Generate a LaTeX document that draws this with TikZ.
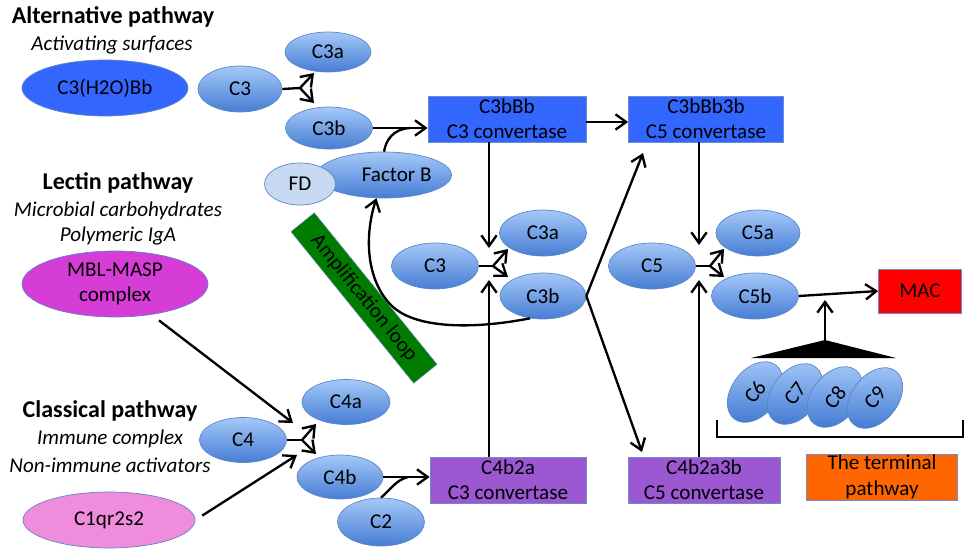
\documentclass[tikz,border=0pt]{standalone}
\usepackage{fontspec}
\setmainfont{Carlito}
\usetikzlibrary{shapes.geometric,arrows.meta}
\definecolor{altblue}{RGB}{51,102,255}
\definecolor{elltop}{RGB}{165,200,248}
\definecolor{ellbot}{RGB}{70,125,212}
\definecolor{ellborder}{RGB}{90,135,200}
\definecolor{fdcol}{RGB}{198,217,241}
\definecolor{mblcol}{RGB}{214,60,214}
\definecolor{c1col}{RGB}{240,140,220}
\definecolor{purp}{RGB}{155,88,210}
\definecolor{ampgreen}{RGB}{0,125,0}
\definecolor{termorange}{RGB}{255,102,0}
\definecolor{macred}{RGB}{255,0,0}
\definecolor{boxborder}{RGB}{110,140,205}
\newlength{\pu}
\setlength{\pu}{0.03cm}
\tikzset{
  txt/.style={font=\fontsize{18}{21.6}\selectfont},
  bubble/.style={ellipse, draw=ellborder, line width=0.6pt, top color=elltop, bottom color=ellbot, inner sep=0pt, align=center, txt},
  flat/.style={ellipse, draw=ellborder, line width=0.6pt, inner sep=0pt, align=center, txt},
  boxx/.style={rectangle, draw=boxborder, line width=0.6pt, inner sep=0pt, align=center, txt},
  title/.style={font=\bfseries\fontsize{20.5}{24}\selectfont},
  sub/.style={font=\itshape\fontsize{18}{21.6}\selectfont},
  ln/.style={line width=2pt},
  arr/.style={line width=2pt, -{Straight Barb[length=3.2mm,width=4.6mm]}}
}
\begin{document}
\begin{tikzpicture}[x=0.03cm,y=-0.03cm]
\useasboundingbox (0,0) rectangle (970,550);

% ---------- Alternative pathway ----------
\node[title] (altT) at (113,17) {Alternative pathway};
\node[sub] (altS) at (112,45) {Activating surfaces};
\node[flat, fill=altblue, minimum width=166\pu, minimum height=56\pu] (c3h) at (105,88) {C3(H2O)Bb};
\node[bubble, minimum width=84\pu, minimum height=46\pu] (c3top) at (240,89) {C3};
\node[bubble, minimum width=86\pu, minimum height=40\pu] (c3atop) at (328,52) {C3a};
\node[bubble, minimum width=87\pu, minimum height=42\pu] (c3btop) at (329,128) {C3b};
\node[bubble, minimum width=135\pu, minimum height=46\pu] (fb) at (384,175) {\hspace*{1.2em}Factor B};
\node[flat, fill=fdcol, minimum width=71\pu, minimum height=42\pu] (fd) at (300,184) {FD};
\node[boxx, fill=altblue, minimum width=158\pu, minimum height=46\pu] (cbb) at (507,119) {C3bBb\\C3 convertase};
\node[boxx, fill=altblue, minimum width=155\pu, minimum height=46\pu] (cbb3) at (706,119) {C3bBb3b\\C5 convertase};

% ---------- middle C3 / C5 ----------
\node[bubble, minimum width=87\pu, minimum height=46\pu] (c3mid) at (435,266) {C3};
\node[bubble, minimum width=87\pu, minimum height=46\pu] (c3amid) at (543,233) {C3a};
\node[bubble, minimum width=86\pu, minimum height=46\pu] (c3bmid) at (543,296) {C3b};
\node[bubble, minimum width=87\pu, minimum height=46\pu] (c5) at (652,266) {C5};
\node[bubble, minimum width=84\pu, minimum height=46\pu] (c5a) at (758,233) {C5a};
\node[bubble, minimum width=87\pu, minimum height=46\pu] (c5b) at (755,296) {C5b};
\node[boxx, fill=macred, minimum width=83\pu, minimum height=44\pu] (mac) at (920,291) {MAC};

% ---------- amplification loop ----------
\node[rectangle, fill=ampgreen, draw=boxborder, line width=0.4pt, inner sep=0pt, minimum width=195\pu, minimum height=30\pu, rotate=-51, txt] (amp) at (364,298) {Amplification loop};

% ---------- terminal pathway ----------
\coordinate (apex) at (825,340);
\fill (apex) -- (896,358) -- (751,358) -- cycle;
\coordinate (macin) at (825,300);
\node[bubble, minimum width=68\pu, minimum height=46\pu, rotate=52] (c6) at (755,392) {C6};
\node[bubble, minimum width=68\pu, minimum height=46\pu, rotate=52] (c7) at (795,394) {C7};
\node[bubble, minimum width=68\pu, minimum height=46\pu, rotate=52] (c8) at (835,397) {C8};
\node[bubble, minimum width=68\pu, minimum height=46\pu, rotate=52] (c9) at (875,398) {C9};
\draw[ln] (717,420) -- (717,437) -- (963,437) -- (963,420);
\node[boxx, fill=termorange, minimum width=151\pu, minimum height=46\pu] (term) at (882,477) {The terminal\\pathway};

% ---------- Lectin pathway ----------
\node[title] (lecT) at (118,183) {Lectin pathway};
\node[sub] (lecS1) at (118,211) {Microbial carbohydrates};
\node[sub] (lecS2) at (118,236) {Polymeric IgA};
\node[flat, fill=mblcol, minimum width=186\pu, minimum height=66\pu] (mbl) at (115,284) {MBL-MASP\\complex};

% ---------- Classical pathway ----------
\node[title] (clT) at (110,411) {Classical pathway};
\node[sub] (clS1) at (110,439) {Immune complex};
\node[sub] (clS2) at (110,465) {Non-immune activators};
\node[flat, fill=c1col, minimum width=172\pu, minimum height=56\pu] (c1) at (109,520) {C1qr2s2};
\node[bubble, minimum width=87\pu, minimum height=45\pu] (c4) at (243,440) {C4};
\node[bubble, minimum width=88\pu, minimum height=45\pu] (c4a) at (346,402) {C4a};
\node[bubble, minimum width=86\pu, minimum height=44\pu] (c4b) at (340,477) {C4b};
\node[bubble, minimum width=87\pu, minimum height=48\pu] (c2) at (381,522) {C2};
\node[boxx, fill=purp, minimum width=156\pu, minimum height=46\pu] (c4b2a) at (508,480) {C4b2a\\C3 convertase};
\node[boxx, fill=purp, minimum width=152\pu, minimum height=46\pu] (c4b2a3b) at (704,480) {C4b2a3b\\C5 convertase};

% ---------- coordinates ----------
\coordinate (f1) at (300,88);
\coordinate (f1a) at (314,73);
\coordinate (f1b) at (314,103);
\coordinate (f2) at (493,266);
\coordinate (f2a) at (508,249);
\coordinate (f2b) at (508,277);
\coordinate (v2t) at (489,248);
\coordinate (v2b) at (489,280);
\coordinate (f3) at (710,266);
\coordinate (f3a) at (724,249);
\coordinate (f3b) at (724,277);
\coordinate (v3t) at (699,245);
\coordinate (v3b) at (699,280);
\coordinate (f4) at (302,440);
\coordinate (f4a) at (316,424);
\coordinate (f4b) at (316,454);
\coordinate (j1) at (410,128);
\coordinate (j2) at (408,477);
\coordinate (t1) at (643,153);
\coordinate (t2) at (642,452);
\coordinate (t3) at (293,423);
\coordinate (t4) at (297,455);
\coordinate (h1) at (0,122);

% ---------- connectors ----------
\draw[ln] (c3top.east) -- (f1);
\draw[arr] (f1) -- (f1a);
\draw[arr] (f1) -- (f1b);
\draw[arr] (c3btop.east) -- (c3btop.east -| cbb.west);
\draw[ln] (fb.north) .. controls (386,140) and (393,129) .. (j1);
\draw[arr] (cbb.east |- h1) -- (cbb3.west |- h1);

\draw[arr] (v2t |- cbb.south) -- (v2t);
\draw[arr] (v2b |- c4b2a.north) -- (v2b);
\draw[ln] (c3mid.east) -- (f2);
\draw[arr] (f2) -- (f2a);
\draw[arr] (f2) -- (f2b);

\draw[arr] (v3t |- cbb3.south) -- (v3t);
\draw[arr] (v3b |- c4b2a3b.north) -- (v3b);
\draw[ln] (c5.east) -- (f3);
\draw[arr] (f3) -- (f3a);
\draw[arr] (f3) -- (f3b);

\draw[arr] (c3bmid.east) -- (t1);
\draw[arr] (c3bmid.east) -- (t2);
\draw[arr] (c3bmid.240) .. controls (470,330) and (415,328) .. (392,306)
   .. controls (368,283) and (363,240) .. (fb.252);

\draw[arr] (c5b.east) -- (mac.west);
\draw[arr] (apex) -- (macin);

\draw[ln] (c4.east) -- (f4);
\draw[arr] (f4) -- (f4a);
\draw[arr] (f4) -- (f4b);
\draw[arr, shorten <=8pt] (mbl.-40) -- (t3);
\draw[arr, shorten <=7pt] (c1.east) -- (t4);
\draw[arr] (c4b.east) -- (c4b.east -| c4b2a.west);
\draw[ln] (c2.north) .. controls (390,490) and (396,480) .. (j2);
\end{tikzpicture}
\end{document}
